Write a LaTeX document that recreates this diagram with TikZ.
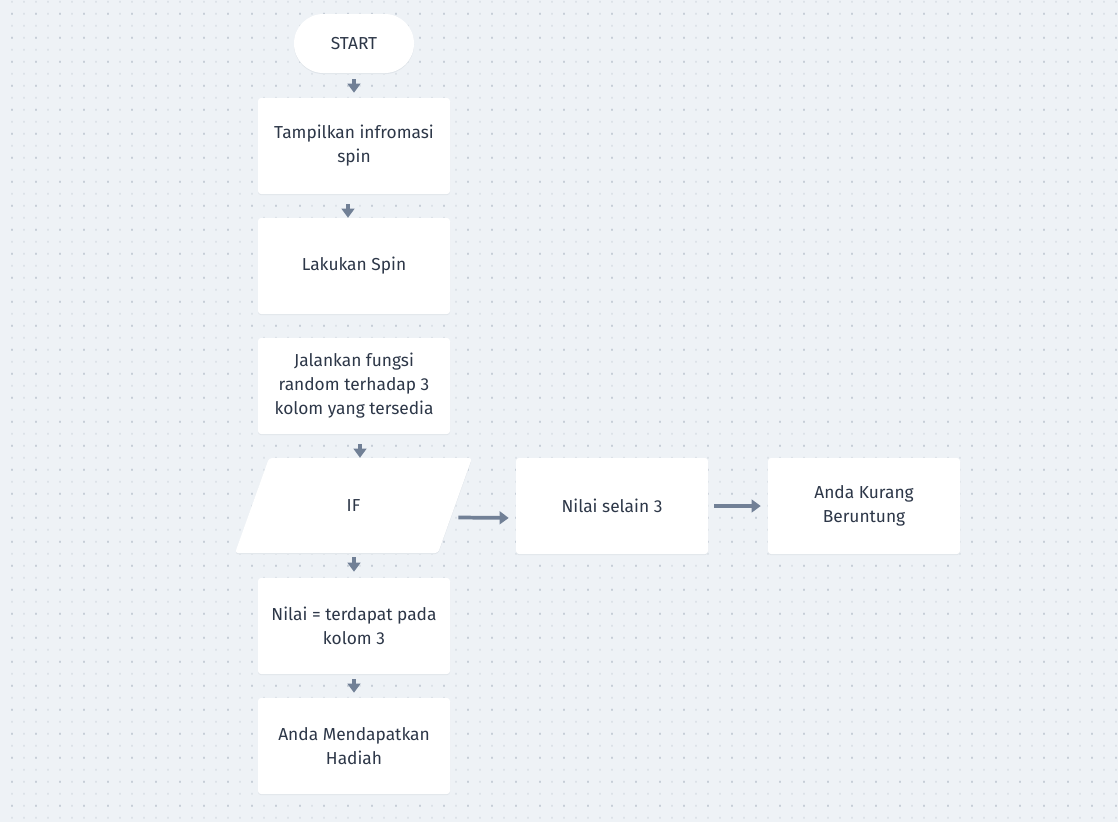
\documentclass[tikz,border=0pt]{standalone}
\usepackage{fontspec}
\setmainfont{Fira Sans}
\usetikzlibrary{arrows.meta}
\definecolor{canvas}{HTML}{EEF2F6}
\definecolor{dotlight}{HTML}{DCE2E8}
\definecolor{dotdark}{HTML}{C6CED7}
\definecolor{ink}{HTML}{2D3748}
\definecolor{flow}{HTML}{718096}
\definecolor{shade}{HTML}{E0E5EA}

\begin{document}
\begin{tikzpicture}[x=0.75pt,y=-0.75pt,
  every node/.style={font=\fontsize{13}{18}\selectfont, text=ink, align=center, inner sep=0pt},
  card/.style={fill=white, preaction={fill=shade, transform canvas={yshift=-0.8pt}}},
  stepbox/.style={card, rounded corners=2.25pt, minimum width=144pt, minimum height=72pt},
  terminal/.style={card, rounded corners=22pt, minimum width=90pt, minimum height=44.25pt},
  iobox/.style={minimum width=152.25pt, minimum height=71.25pt},
  flowarrow/.style={draw=flow, line width=2.8pt, -{Triangle[width=9.5pt,length=6.8pt]}},
]
\useasboundingbox (0,0) rectangle (1118,822);
\fill[canvas] (0,0) rectangle (1118,822);

% dotted grid: fine dots every 12px, stronger ones every 24px
\fill[dotlight] \foreach \i in {1,...,93} { \foreach \j in {0,...,68} {
  (12*\i-0.8, 12*\j+0.9) rectangle ++(1.6,1.6) } };
\fill[dotdark] \foreach \i in {0,...,46} { \foreach \j in {0,...,34} {
  (24*\i+11.2, 24*\j+12.9) rectangle ++(1.6,1.6) } };

% flow nodes
\node[terminal] (start) at (354,43.5) {START};
\node[stepbox] (info) at (354,146) {Tampilkan infromasi\\spin};
\node[stepbox] (spin) at (354,266) {Lakukan Spin};
\node[stepbox] (rand) at (354,386) {Jalankan fungsi\\random terhadap 3\\kolom yang tersedia};
% decision step drawn as a slanted card around its node
\path[card, rounded corners=2.25pt]
  (353.5,505.5) ++(-84.5,-47.5) -- ++(203,0) -- ++(-34,95) -- ++(-203,0) -- cycle;
\node[iobox] (cond) at (353.5,505.5) {IF};
\node[stepbox] (hit) at (354,626) {Nilai = terdapat pada\\kolom 3};
\node[stepbox] (prize) at (354,746) {Anda Mendapatkan\\Hadiah};
\node[stepbox] (other) at (612,506) {Nilai selain 3};
\node[stepbox] (lose) at (864,506) {Anda Kurang\\Beruntung};

% connectors
\draw[flowarrow, shorten <=4.5pt, shorten >=3.75pt] (start.south) -- (info.north);
\draw[flowarrow, shorten <=7.5pt] ([shift={(-6,0)}]info.south) -- ([shift={(-6,0)}]spin.north);
\draw[flowarrow, shorten <=7.5pt] ([shift={(6,0)}]rand.south) -- ([shift={(6,0)}]rand.south |- cond.north);
\draw[flowarrow, shorten <=3pt, shorten >=4.5pt] (cond.south -| hit.north) -- (hit.north);
\draw[flowarrow, shorten <=3.75pt, shorten >=3.75pt] (hit.south) -- (prize.north);
\draw[flowarrow, shorten >=5.25pt] ([shift={(3,12)}]cond.east) -- ([shift={(0,12)}]other.west);
\draw[flowarrow, shorten <=4.5pt, shorten >=5.25pt] (other.east) -- (lose.west);
\end{tikzpicture}
\end{document}
